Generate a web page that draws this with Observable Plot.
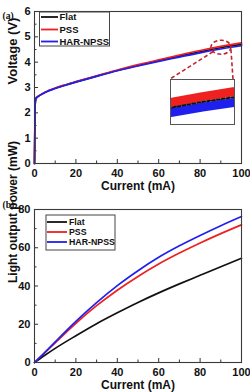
<!DOCTYPE html>
<html>
<head>
<meta charset="utf-8">
<script src="https://cdn.jsdelivr.net/npm/d3@7"></script>
<script src="https://cdn.jsdelivr.net/npm/@observablehq/plot@0.6"></script>
<style>
  html, body { margin: 0; padding: 0; background: #fff; }
  #fig { position: relative; width: 250px; height: 392px; overflow: hidden; }
  #fig > * { position: absolute; }
</style>
</head>
<body>
<div id="fig"></div>
<script>
// Series names and colours
const series = ["Flat", "PSS", "HAR-NPSS"];
const colors = ["#111111", "#ee2020", "#2020ee"];

// (a) current–voltage curves
const ivCurrent = [0, 0.3, 0.6, 1, 2, 5, 10, 15, 20, 30, 40, 50, 60, 70, 80, 90, 100];
const ivFlat = [0, 2.3, 2.55, 2.6, 2.66, 2.8, 2.97, 3.1, 3.22, 3.45, 3.67, 3.87, 4.06, 4.24, 4.41, 4.57, 4.7];
const ivPSS  = [0, 2.3, 2.56, 2.61, 2.67, 2.81, 2.98, 3.11, 3.23, 3.46, 3.69, 3.9, 4.09, 4.28, 4.46, 4.62, 4.76];
const ivHAR  = [0, 2.3, 2.55, 2.6, 2.66, 2.8, 2.96, 3.09, 3.21, 3.44, 3.66, 3.85, 4.03, 4.2, 4.37, 4.52, 4.65];

// (b) current–light output power curves
const lpCurrent = [0, 5, 10, 20, 30, 40, 50, 60, 70, 80, 90, 100];
const lpFlat = [0, 3.8, 7.4, 14.0, 20.3, 26.0, 31.4, 36.4, 41.1, 45.6, 50.1, 54.5];
const lpPSS  = [0, 5.1, 10.3, 20.5, 29.7, 37.8, 45.0, 51.5, 57.2, 62.5, 67.4, 72.0];
const lpHAR  = [0, 5.3, 10.8, 21.5, 31.3, 40.2, 48.0, 55.0, 61.0, 66.4, 71.5, 76.3];

// Axis ticks
const xMajor = [0, 20, 40, 60, 80, 100];
const xMinor = [10, 30, 50, 70, 90];
const vMajor = [0, 1, 2, 3, 4, 5, 6];
const vMinor = [0.5, 1.5, 2.5, 3.5, 4.5, 5.5];
const pMajor = [0, 20, 40, 60, 80];
const pMinor = [10, 30, 50, 70];

// Magnified window shown in the inset of (a)
const zoomCurrent = [86.5, 93.5];
const zoomVoltage = [4.354, 4.784];
const zoomCenter = [90.3, 4.57];

const toRows = (xs, ys, name) => xs.map((x, i) => ({x, y: ys[i], name}));
const ivRows = [...toRows(ivCurrent, ivFlat, series[0]), ...toRows(ivCurrent, ivPSS, series[1]), ...toRows(ivCurrent, ivHAR, series[2])];
const lpRows = [...toRows(lpCurrent, lpFlat, series[0]), ...toRows(lpCurrent, lpPSS, series[1]), ...toRows(lpCurrent, lpHAR, series[2])];

const W = 250;
const M = {left: 34, right: 9};
const sans = "Liberation Sans, Arial, sans-serif";
const tickFont = {fontFamily: sans, fontWeight: "bold", fontSize: 11, fill: "#111"};

function panel({rows, yDomain, yMajor, yMinor, height, top, bottom, yLabel, yLabelShift, yLabelSize, tag, tagDy}) {
  const fw = W - M.left - M.right;
  const fh = height - top - bottom;
  return Plot.plot({
    width: W, height,
    marginLeft: M.left, marginRight: M.right, marginTop: top, marginBottom: bottom,
    style: {background: "transparent", overflow: "visible"},
    x: {domain: [0, 100], axis: null},
    y: {domain: yDomain, axis: null},
    marks: [
      // inward tick marks
      Plot.tickX(xMajor, {x: d => d, insetTop: fh - 4, stroke: "#333", strokeWidth: 1}),
      Plot.tickX(xMinor, {x: d => d, insetTop: fh - 2.5, stroke: "#333", strokeWidth: 1}),
      Plot.tickY(yMajor, {y: d => d, insetRight: fw - 4, stroke: "#333", strokeWidth: 1}),
      Plot.tickY(yMinor, {y: d => d, insetRight: fw - 2.5, stroke: "#333", strokeWidth: 1}),
      // tick labels
      Plot.text(xMajor, {x: d => d, frameAnchor: "bottom", dy: 6, lineAnchor: "top", text: d => String(d), ...tickFont}),
      Plot.text(yMajor, {y: d => d, frameAnchor: "left", dx: -4, textAnchor: "end", text: d => String(d), ...tickFont}),
      ...series.map((name, i) => Plot.line(rows.filter(d => d.name === name), {
        x: "x", y: "y", stroke: colors[i], strokeWidth: 1.7, curve: "monotone-x"
      })),
      Plot.frame({stroke: "#3a3a3a", strokeWidth: 1.1}),
      Plot.text(["Current (mA)"], {frameAnchor: "bottom", dy: 17.5, lineAnchor: "top", text: d => d,
        fontFamily: sans, fontWeight: "bold", fontSize: 12, fill: "#111"}),
      Plot.text([yLabel], {frameAnchor: "left", dx: -21.5, dy: yLabelShift, rotate: -90, text: d => d,
        fontFamily: sans, fontWeight: "bold", fontSize: yLabelSize, fill: "#111"}),
      Plot.text([tag], {frameAnchor: "top-left", dx: -32, dy: tagDy, textAnchor: "start", text: d => d,
        fontFamily: "Liberation Serif, Times New Roman, serif", fontWeight: "bold", fontSize: 9.5, fill: "#111"})
    ]
  });
}

const fig = document.getElementById("fig");

const topPlot = panel({rows: ivRows, yDomain: [0, 6], yMajor: vMajor, yMinor: vMinor, height: 192, top: 11, bottom: 29,
  yLabel: "Voltage (V)", yLabelShift: -3, yLabelSize: 13, tag: "(a)", tagDy: 1});
topPlot.style.left = "0px"; topPlot.style.top = "0px";
fig.appendChild(topPlot);

const botPlot = panel({rows: lpRows, yDomain: [0, 80], yMajor: pMajor, yMinor: pMinor, height: 200, top: 17, bottom: 30,
  yLabel: "Light output power (mW)", yLabelShift: -3, yLabelSize: 12, tag: "(b)", tagDy: -8});
botPlot.style.left = "0px"; botPlot.style.top = "192px";
fig.appendChild(botPlot);

// Inset: magnified view of the curves near 90 mA
const inset = {left: 170, top: 79, width: 64, height: 45};
const insetPlot = Plot.plot({
  width: inset.width, height: inset.height,
  margin: 0,
  style: {background: "#fff", overflow: "visible"},
  x: {domain: zoomCurrent, axis: null},
  y: {domain: zoomVoltage, axis: null},
  marks: [
    Plot.line(ivRows.filter(d => d.name === "PSS"), {x: "x", y: "y", stroke: colors[1], strokeWidth: 9, clip: true}),
    Plot.line(ivRows.filter(d => d.name === "HAR-NPSS"), {x: "x", y: "y", stroke: colors[2], strokeWidth: 9, clip: true}),
    Plot.line(ivRows.filter(d => d.name === "Flat"), {x: "x", y: "y", stroke: colors[0], strokeWidth: 2, strokeDasharray: "3,2", clip: true}),
    Plot.frame({stroke: "#555", strokeWidth: 1})
  ]
});
insetPlot.style.left = inset.left + "px"; insetPlot.style.top = inset.top + "px";
fig.appendChild(insetPlot);

// Overlay: legends, zoom ellipse and its leader lines
const sx = topPlot.scale("x"), sy = topPlot.scale("y");
const cx = sx.apply(zoomCenter[0]), cy = sy.apply(zoomCenter[1]);
const svg = d3.select(fig).append("svg")
  .attr("width", 250).attr("height", 140)
  .style("left", "0px").style("top", "0px").style("pointer-events", "none");
const svg2 = d3.select(fig).append("svg")
  .attr("width", 130).attr("height", 50)
  .style("left", "0px").style("top", "205px").style("pointer-events", "none");

const dash = {stroke: "#c0262c", "stroke-width": 1.6, "stroke-dasharray": "4,2.5", fill: "none"};
const ell = svg.append("ellipse").attr("cx", cx).attr("cy", cy).attr("rx", 10).attr("ry", 7);
Object.entries(dash).forEach(([k, v]) => ell.attr(k, v));
const leaders = [
  [cx - 8, cy + 4.5, inset.left, inset.top],
  [cx + 10, cy + 2, inset.left + inset.width - 1, inset.top]
];
leaders.forEach(([x1, y1, x2, y2]) => {
  const l = svg.append("line").attr("x1", x1).attr("y1", y1).attr("x2", x2).attr("y2", y2);
  Object.entries(dash).forEach(([k, v]) => l.attr(k, v));
});

function legend(host, box, rowY, lineX, textX, fontSize) {
  host.append("rect").attr("x", box[0]).attr("y", box[1]).attr("width", box[2]).attr("height", box[3])
    .attr("fill", "#fff").attr("stroke", "#444").attr("stroke-width", 1);
  series.forEach((name, i) => {
    host.append("line").attr("x1", lineX[0]).attr("x2", lineX[1]).attr("y1", rowY[i]).attr("y2", rowY[i])
      .attr("stroke", colors[i]).attr("stroke-width", 1.8);
    host.append("text").attr("x", textX).attr("y", rowY[i]).attr("dy", "0.35em")
      .attr("font-family", sans).attr("font-weight", "bold")
      .attr("font-size", fontSize).attr("fill", "#111").text(name);
  });
}
legend(svg, [39.5, 12, 70, 34], [17, 29.5, 41.5], [41, 58], 59.5, 9.5);
legend(svg2, [46, 10, 69, 35], [17, 27, 37], [47, 67], 69, 8.8);
</script>
</body>
</html>
